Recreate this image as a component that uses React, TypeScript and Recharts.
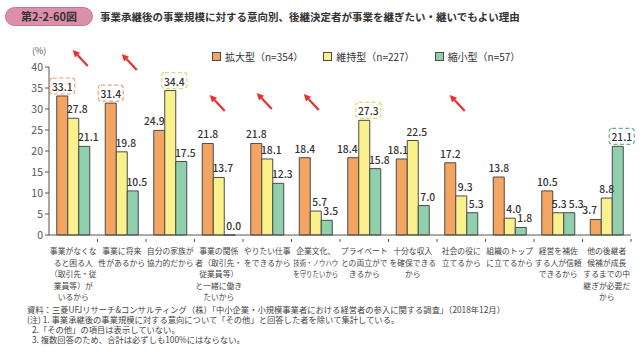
import { BarChart, Bar, XAxis, YAxis, LabelList } from "recharts";

const categories = [
  "事業がなくな\nると困る人\n（取引先・従\n業員等）が\nいるから",
  "事業に将来\n性があるから",
  "自分の家族が\n協力的だから",
  "事業の関係\n者（取引先・\n従業員等）\nと一緒に働き\nたいから",
  "やりたい仕事\nをできるから",
  "企業文化、\n技術・ノウハウ\nを守りたいから",
  "プライベート\nとの両立がで\nきるから",
  "十分な収入\nを確保できる\nから",
  "社会の役に\n立てるから",
  "組織のトップ\nに立てるから",
  "経営を補佐\nする人が信頼\nできるから",
  "他の後継者\n候補が成長\nするまでの中\n継ぎが必要だ\nから",
];

const expandValues = [33.1, 31.4, 24.9, 21.8, 21.8, 18.4, 18.4, 18.1, 17.2, 13.8, 10.5, 3.7];
const keepValues = [27.8, 19.8, 34.4, 13.7, 18.1, 5.7, 27.3, 22.5, 9.3, 4.0, 5.3, 8.8];
const shrinkValues = [21.1, 10.5, 17.5, 0.0, 12.3, 3.5, 15.8, 7.0, 5.3, 1.8, 5.3, 21.1];

const yTicks = [0, 5, 10, 15, 20, 25, 30, 35, 40];

const seriesNames = ["拡大型（n=354）", "維持型（n=227）", "縮小型（n=57）"];

// highlighted (dashed box) values, by series key and category index
const highlights: Record<string, number[]> = {
  expand: [0, 1],
  keep: [2, 6],
  shrink: [11],
};

// label nudges so the numbers don't collide (px)
const labelShift: Record<string, number> = { expand: 0, keep: 4, shrink: 4 };
const labelFix: Record<string, Record<number, number>> = {
  expand: { 2: -5, 6: -6, 7: -4, 11: -6 },
  keep: { 10: 1, 11: 0 },
  shrink: { 10: 7 },
};

// red arrows placed over some categories (offset from the orange bar)
const arrows = [
  { index: 0, dx: 16, y: 50 },
  { index: 1, dx: 16.5, y: 54 },
  { index: 3, dx: 7.5, y: 95 },
  { index: 4, dx: 6, y: 93 },
  { index: 5, dx: 4.5, y: 94 },
  { index: 8, dx: 5, y: 95 },
];

const data = categories.map((name, i) => ({
  name,
  expand: expandValues[i],
  keep: keepValues[i],
  shrink: shrinkValues[i],
}));

const FONT = "'Noto Sans CJK JP', 'Noto Sans', sans-serif";
const COLORS = { expand: "#f5a562", keep: "#fbf18c", shrink: "#90d0ad" };
const BOX = { expand: "#ee9e72", keep: "#dcdc62", shrink: "#5fb886" };
const BORDER = "#4a4a4a";

function Arrow({ hx, hy }: { hx: number; hy: number }) {
  const tx = hx + 15;
  const ty = hy + 16;
  const len = Math.hypot(tx - hx, ty - hy);
  const ux = (hx - tx) / len;
  const uy = (hy - ty) / len;
  const bx = hx - ux * 7;
  const by = hy - uy * 7;
  const px = -uy * 3.5;
  const py = ux * 3.5;
  return (
    <g>
      <line x1={tx} y1={ty} x2={bx} y2={by} stroke="#e5322d" strokeWidth={2.2} />
      <polygon points={`${hx},${hy} ${bx + px},${by + py} ${bx - px},${by - py}`} fill="#e5322d" />
    </g>
  );
}

function makeLabel(key: "expand" | "keep" | "shrink") {
  return (props: any) => {
    const { x, y, width, value, index } = props;
    const fix = labelFix[key][index];
    const shift = fix !== undefined ? fix : labelShift[key];
    const cx = Number(x) + Number(width) / 2 + shift;
    const ty = Math.min(Number(y), 235) - 5;
    const boxed = highlights[key].includes(index);
    const arrow = key === "expand" ? arrows.find((a) => a.index === index) : undefined;
    return (
      <g>
        {boxed && (
          <rect
            x={cx - 12.5}
            y={ty - 13}
            width={25}
            height={16}
            rx={3}
            fill="none"
            stroke={BOX[key]}
            strokeWidth={1.2}
            strokeDasharray="4 2.5"
          />
        )}
        <text
          x={cx}
          y={ty}
          textAnchor="middle"
          fontSize={10.3}
          fontWeight={500}
          fill="#333"
          fontFamily={FONT}
        >
          {Number(value).toFixed(1)}
        </text>
        {arrow && <Arrow hx={Number(x) + arrow.dx} hy={arrow.y} />}
      </g>
    );
  };
}

function CategoryTick(props: any) {
  const { x, y, payload, index } = props;
  const lines = String(payload.value).split("\n");
  const half = 24.25;
  return (
    <g>
      {index > 0 && <line x1={x - half} y1={y - 4} x2={x - half} y2={y - 1} stroke="#555" />}
      {index === categories.length - 1 && (
        <line x1={x + half} y1={y - 4} x2={x + half} y2={y - 1} stroke="#555" />
      )}
      {lines.map((l, i) => {
        const squeeze = l.length > 6;
        return (
          <text
            key={i}
            x={x}
            y={y + 11 + i * 11.6}
            textAnchor="middle"
            fontSize={7.8}
            fill="#444"
            fontFamily={FONT}
            textLength={squeeze ? 45 : undefined}
            lengthAdjust={squeeze ? "spacingAndGlyphs" : undefined}
          >
            {l}
          </text>
        );
      })}
    </g>
  );
}

function LegendBox({ color, label }: { color: string; label: string }) {
  return (
    <span style={{ display: "inline-flex", alignItems: "center", marginRight: 20 }}>
      <span
        style={{
          width: 7,
          height: 7,
          background: color,
          border: `1px solid ${BORDER}`,
          marginRight: 4,
          display: "inline-block",
        }}
      />
      {label}
    </span>
  );
}

export default function App() {
  return (
    <div
      style={{
        position: "absolute",
        left: 0,
        top: 0,
        width: 640,
        height: 357,
        background: "#fff",
        fontFamily: FONT,
        color: "#333",
        overflow: "hidden",
      }}
    >
      <div
        style={{
          position: "absolute",
          left: 5,
          top: 7,
          width: 88,
          height: 19,
          borderRadius: 10,
          background: "#dc8fab",
          border: "1px solid #c97595",
          boxSizing: "border-box",
          fontSize: 11,
          fontWeight: 700,
          lineHeight: "17px",
          textAlign: "center",
          color: "#333",
        }}
      >
        第2-2-60図
      </div>
      <div
        style={{
          position: "absolute",
          left: 100,
          top: 9,
          fontSize: 10.5,
          fontWeight: 700,
          lineHeight: "16px",
          color: "#333",
          whiteSpace: "nowrap",
        }}
      >
        事業承継後の事業規模に対する意向別、後継決定者が事業を継ぎたい・継いでもよい理由
      </div>
      <div style={{ position: "absolute", left: 32, top: 44, fontSize: 9, color: "#555" }}>(%)</div>
      <div
        style={{
          position: "absolute",
          left: 212,
          top: 49,
          fontSize: 10,
          color: "#333",
          whiteSpace: "nowrap",
          display: "flex",
        }}
      >
        <LegendBox color={COLORS.expand} label={seriesNames[0]} />
        <LegendBox color={COLORS.keep} label={seriesNames[1]} />
        <LegendBox color={COLORS.shrink} label={seriesNames[2]} />
      </div>

      <BarChart
        width={640}
        height={357}
        data={data}
        margin={{ top: 67, right: 9, left: 0, bottom: 52 }}
        barGap={0}
        barCategoryGap="16%"
        style={{ position: "absolute", left: 0, top: 0 }}
      >
        <YAxis
          width={49}
          domain={[0, 40]}
          ticks={yTicks}
          interval={0}
          tickSize={4}
          axisLine={{ stroke: "#555" }}
          tickLine={{ stroke: "#555" }}
          tick={{ fontSize: 10.5, fill: "#555", fontFamily: FONT }}
        />
        <XAxis
          dataKey="name"
          height={70}
          interval={0}
          axisLine={{ stroke: "#555" }}
          tickLine={false}
          tick={<CategoryTick />}
        />
        <Bar dataKey="expand" fill={COLORS.expand} stroke={BORDER} strokeWidth={1} isAnimationActive={false}>
          <LabelList dataKey="expand" content={makeLabel("expand")} />
        </Bar>
        <Bar dataKey="keep" fill={COLORS.keep} stroke={BORDER} strokeWidth={1} isAnimationActive={false}>
          <LabelList dataKey="keep" content={makeLabel("keep")} />
        </Bar>
        <Bar
          dataKey="shrink"
          fill={COLORS.shrink}
          stroke={BORDER}
          strokeWidth={1}
          minPointSize={0.01}
          isAnimationActive={false}
        >
          <LabelList dataKey="shrink" content={makeLabel("shrink")} />
        </Bar>
      </BarChart>

      <div
        style={{
          position: "absolute",
          left: 27,
          top: 304,
          fontSize: 8.3,
          lineHeight: "10px",
          color: "#444",
          whiteSpace: "nowrap",
        }}
      >
        <div>資料：三菱UFJリサーチ&amp;コンサルティング（株）「中小企業・小規模事業者における経営者の参入に関する調査」（2018年12月）</div>
        <div>(注) 1. 事業承継後の事業規模に対する意向について「その他」と回答した者を除いて集計している。</div>
        <div style={{ paddingLeft: 5 }}>2.「その他」の項目は表示していない。</div>
        <div style={{ paddingLeft: 5 }}>3. 複数回答のため、合計は必ずしも100%にはならない。</div>
      </div>
    </div>
  );
}
